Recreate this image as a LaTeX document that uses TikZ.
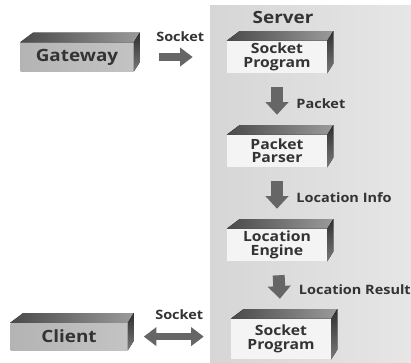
\documentclass[tikz,border=0pt]{standalone}
\usepackage{fontspec}
\setmainfont{Open Sans}[FakeStretch=1.12]
\usetikzlibrary{arrows.meta,positioning}

\definecolor{panelgray}{HTML}{D6D6D6}
\definecolor{panellight}{HTML}{E6E6E6}
\definecolor{frontgray}{HTML}{B4B4B4}
\definecolor{frontlight}{HTML}{F4F4F4}
\definecolor{facedark}{HTML}{4A4A4A}
\definecolor{facemid}{HTML}{9A9A9A}
\definecolor{sidedark}{HTML}{2E2E2E}
\definecolor{sidemid}{HTML}{7A7A7A}
\definecolor{arrowgray}{HTML}{666666}
\definecolor{textgray}{HTML}{333333}

% top and right faces of a box node
\newcommand{\boxfaces}[1]{%
  \fill[left color=facedark, right color=facemid] (#1.north west) -- ++(0.32,0.24)
    -- ([shift={(0.15,0.24)}]#1.north east) -- (#1.north east) -- cycle;
  \fill[top color=sidedark, bottom color=sidemid] (#1.north east) -- ++(0.15,0.24)
    -- ([shift={(0.15,0.24)}]#1.south east) -- (#1.south east) -- cycle;}

\begin{document}
\begin{tikzpicture}[node distance=2.35cm, text=textgray,
                    block/.style = {rectangle, fill=frontlight, minimum width=2.5cm,
                                    minimum height=0.8cm, inner sep=1pt, align=center,
                                    font=\fontsize{10}{9.5}\selectfont\bfseries},
                    outer/.style = {rectangle, left color=frontgray, right color=frontgray!80,
                                    minimum height=0.72cm, inner sep=1pt,
                                    font=\fontsize{12}{14}\selectfont\bfseries},
                    lbl/.style   = {font=\fontsize{9.2}{11}\selectfont\bfseries},
                    fat/.style   = {draw=arrowgray, line width=5.5pt,
                                    -{Triangle[length=9pt,width=13pt]}},
                    fatboth/.style = {draw=arrowgray, line width=5.5pt,
                                    {Triangle[length=9pt,width=13pt]}-{Triangle[length=9pt,width=13pt]}},
                    vfat/.style  = {draw=arrowgray, line width=8.5pt,
                                    -{Triangle[length=9pt,width=16pt]},
                                    shorten <=0.35cm, shorten >=0.5cm}]
  \useasboundingbox (0,0) rectangle (10.275,9.05);

  % server panel
  \fill[left color=panelgray, right color=panellight] (5.25,0) rectangle (10.275,8.925);

  \node[block] (sp1) at (6.925,7.625) {Socket\\Program};
  \node[block] (parser) [below of=sp1] {Packet\\Parser};
  \node[block] (engine) [below of=parser] {Location\\Engine};
  \node[block, minimum height=1cm, xshift=0.1cm] (sp2) [below of=engine] {Socket\\Program};
  \node[lbl, font=\fontsize{12}{14}\selectfont\bfseries, node distance=1cm,
        xshift=0.15cm] (server) [above of=sp1] {Server};

  \node[outer, minimum width=2.825cm, node distance=5cm] (gateway) [left of=sp1] {Gateway};
  \node[outer, minimum width=2.925cm, minimum height=0.675cm, node distance=5.3cm,
        yshift=0.06cm] (client) [left of=sp2] {Client};

  \foreach \b in {sp1,parser,engine,sp2,gateway,client}
    \boxfaces{\b};

  \draw[fat, shorten <=0.625cm, shorten >=0.85cm] (gateway.east) -- (sp1.west)
    node[lbl, midway, above=0.16cm] (sock1) {Socket};
  \draw[vfat] (sp1) -- (parser) node[lbl, midway, right=0.22cm] (pkt) {Packet};
  \draw[vfat] (parser) -- (engine) node[lbl, midway, right=0.22cm] (info) {Location Info};
  \draw[vfat] (engine) -- (sp2.north) node[lbl, midway, right=0.22cm] (result) {Location Result};
  \draw[fatboth, shorten <=0.4cm, shorten >=0.675cm] (client.east) -- (client.east -| sp2.west)
    node[lbl, midway, above=0.2cm] (sock2) {Socket};
\end{tikzpicture}
\end{document}
